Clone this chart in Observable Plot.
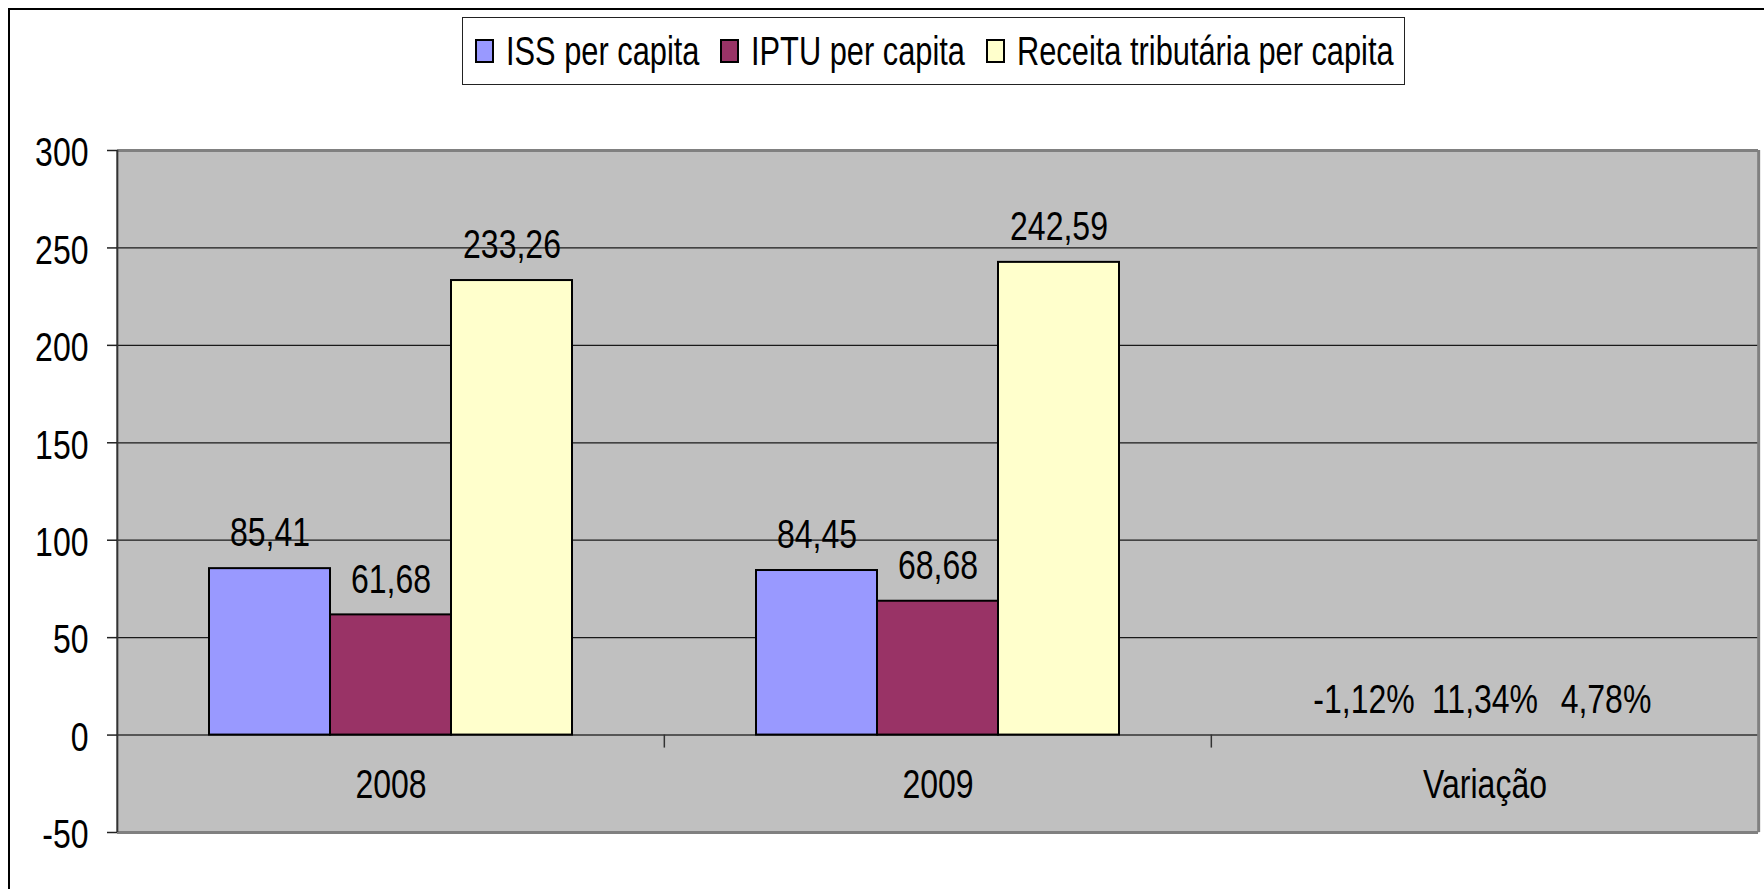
<!DOCTYPE html>
<html>
<head>
<meta charset="utf-8">
<script src="https://cdn.jsdelivr.net/npm/d3@7"></script>
<script src="https://cdn.jsdelivr.net/npm/@observablehq/plot@0.6"></script>
<style>
  html, body { margin: 0; padding: 0; background: #fff; }
  #wrap { position: relative; width: 1764px; height: 889px; overflow: hidden; background: #fff;
          font-family: "Liberation Sans", Arial, sans-serif; }
  #outer { position: absolute; left: 8px; top: 8px; width: 3000px; height: 3000px;
           border-left: 2px solid #000; border-top: 2px solid #000; pointer-events: none; }
  #legend { position: absolute; left: 462px; top: 17px; height: 66px; box-sizing: content-box;
            border: 1.5px solid #222; background: #fff; display: flex; align-items: center;
            padding: 0 10px 0 12px; font-size: 40px; color: #000; white-space: nowrap; }
  #legend .item { display: flex; align-items: center; margin-right: 21px; }
  #legend .item:last-child { margin-right: 0; }
  #legend .sw { width: 15px; height: 20px; border: 2px solid #000; margin-right: 12px; flex: none; }
  #legend .tx { display: inline-block; transform: scaleX(0.77); transform-origin: 0 50%; }
  #chart { position: absolute; left: 0; top: 100px; }
</style>
</head>
<body>
<div id="wrap">
  <div id="chart"></div>
  <div id="legend"></div>
  <div id="outer"></div>
</div>
<script>
// ---- data ----
const categories = ["2008", "2009", "Variação"];
const series = ["ISS per capita", "IPTU per capita", "Receita tributária per capita"];
const values2008 = [85.41, 61.68, 233.26];
const values2009 = [84.45, 68.68, 242.59];
const variacaoPct = [-1.12, 11.34, 4.78];
const yTicks = [-50, 0, 50, 100, 150, 200, 250, 300];
const gridValues = [50, 100, 150, 200, 250];
const palette = ["#9999FF", "#993366", "#FFFFCC"];

// ---- table ----
const fmt = v => v.toFixed(2).replace(".", ",");
const rows = [];
series.forEach((s, i) => {
  rows.push({cat: categories[0], series: s, value: values2008[i], label: fmt(values2008[i]), bar: true});
  rows.push({cat: categories[1], series: s, value: values2009[i], label: fmt(values2009[i]), bar: true});
  rows.push({cat: categories[2], series: s, value: variacaoPct[i] / 100, label: fmt(variacaoPct[i]) + "%", bar: false});
});

const W = 1764, H = 789, ML = 116, MR = 6, MT = 50, MB = 57;
const facetW = (W - ML - MR) / categories.length;
const FONT = "\"Liberation Sans\", Arial, sans-serif";
const NARROW = 0.80;
const LEGEND_NARROW = 0.77;

const chart = Plot.plot({
  width: W,
  height: H,
  marginLeft: ML,
  marginRight: MR,
  marginTop: MT,
  marginBottom: MB,
  style: {fontFamily: FONT, fontSize: "40px", color: "#000", background: "transparent", overflow: "visible"},
  fx: {domain: categories, padding: 0, axis: null},
  x: {domain: series, paddingInner: 0, paddingOuter: 0.75, axis: null},
  y: {domain: [-50, 300]},
  color: {domain: series, range: palette},
  marks: [
    Plot.frame({fill: "#C0C0C0", stroke: "none", insetLeft: -1, insetRight: -1}),
    Plot.ruleY(gridValues, {stroke: "#1a1a1a", strokeWidth: 1.3}),
    Plot.ruleY([0], {stroke: "#333", strokeWidth: 1.6}),
    Plot.ruleY([300, -50], {stroke: "#808080", strokeWidth: 3}),
    Plot.ruleX(["Variação"], {fx: d => d, x: null, dx: facetW / 2, stroke: "#808080", strokeWidth: 3}),
    Plot.ruleX(["2008"], {fx: d => d, x: null, dx: -facetW / 2, stroke: "#333", strokeWidth: 2}),
    Plot.ruleX(["2009", "Variação"], {fx: d => d, x: null, y1: 0, y2: 0, insetBottom: -13, dx: -facetW / 2, stroke: "#333", strokeWidth: 1.5}),
    Plot.barY(rows.filter(d => d.bar), {fx: "cat", x: "series", y: "value", fill: "series", stroke: "#000", strokeWidth: 2}),
    Plot.text(rows, {fx: "cat", x: "series", y: "value", text: "label", dy: -35, fill: "#000", fontSize: 40}),
    Plot.text(categories, {fx: d => d, text: d => d, frameAnchor: "bottom", dy: -35, fill: "#000", fontSize: 40}),
    // tick marks
    Plot.axisY({ticks: yTicks, tickFormat: () => "", label: null, tickSize: 10, tickPadding: 0, stroke: "#222", strokeWidth: 1.5}),
    // tick labels
    Plot.axisY({ticks: yTicks, tickFormat: d => String(d), label: null, tickSize: 0, tickPadding: 29, dy: 3, fontSize: 40})
  ]
});
document.getElementById("chart").appendChild(chart);

// narrow the lettering (the reference uses a condensed face)
chart.querySelectorAll("text").forEach(t => {
  const L = t.getComputedTextLength();
  if (L > 0) {
    t.setAttribute("textLength", (L * NARROW).toFixed(2));
    t.setAttribute("lengthAdjust", "spacingAndGlyphs");
  }
});

// ---- legend (colors taken from the chart's color scale) ----
const color = chart.scale("color");
const legend = document.getElementById("legend");
series.forEach(s => {
  const item = document.createElement("div");
  item.className = "item";
  const sw = document.createElement("div");
  sw.className = "sw";
  sw.style.background = color.apply(s);
  const tx = document.createElement("span");
  tx.className = "tx";
  tx.textContent = s;
  item.appendChild(sw);
  item.appendChild(tx);
  legend.appendChild(item);
  const w = tx.getBoundingClientRect().width / LEGEND_NARROW;
  tx.style.marginRight = (-(w * (1 - LEGEND_NARROW))).toFixed(2) + "px";
});
</script>
</body>
</html>
